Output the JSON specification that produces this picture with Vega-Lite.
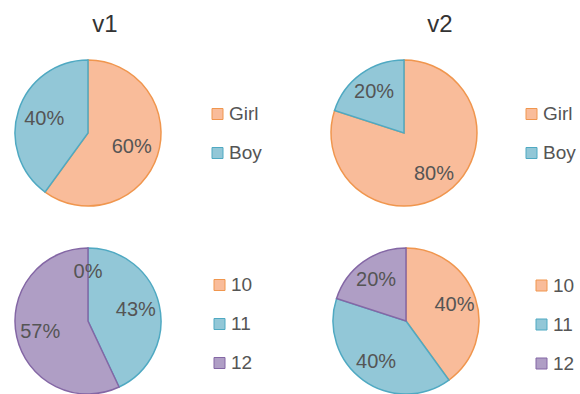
{
  "$schema": "https://vega.github.io/schema/vega-lite/v6.json",
  "padding": {"left": 12, "top": 13, "right": 0, "bottom": 0},
  "background": "white",
  "config": {
    "view": {"stroke": null},
    "font": "Liberation Sans",
    "title": {"fontSize": 24, "fontWeight": "normal", "color": "#333333", "offset": 20, "frame": "group", "anchor": "middle"}
  },
  "datasets": {
    "g1": [{"cat": "Girl", "share": 0.6, "ord": 1}, {"cat": "Boy", "share": 0.4, "ord": 2}],
    "g2": [{"cat": "Girl", "share": 0.8, "ord": 1}, {"cat": "Boy", "share": 0.2, "ord": 2}],
    "a1": [{"cat": "10", "share": 0, "ord": 1}, {"cat": "11", "share": 0.43, "ord": 2}, {"cat": "12", "share": 0.57, "ord": 3}],
    "a2": [{"cat": "10", "share": 0.4, "ord": 1}, {"cat": "11", "share": 0.4, "ord": 2}, {"cat": "12", "share": 0.2, "ord": 3}]
  },
  "resolve": {"scale": {"color": "independent", "stroke": "independent", "theta": "independent"}, "legend": {"color": "independent", "stroke": "independent"}},
  "spacing": 36,
  "vconcat": [
    {
      "spacing": 66,
      "resolve": {"scale": {"color": "independent", "stroke": "independent", "theta": "independent"}, "legend": {"color": "independent", "stroke": "independent"}},
      "hconcat": [
        {
          "data": {"name": "g1"},
          "title": {"text": "v1", "dx": 17},
          "width": 146, "height": 146,
          "encoding": {
            "theta": {"field": "share", "type": "quantitative", "stack": true},
            "order": {"field": "ord", "type": "quantitative"}
          },
          "layer": [
            {
              "mark": {"type": "arc", "strokeWidth": 1.5},
              "encoding": {
                "color": {"field": "cat", "type": "nominal", "scale": {"domain": ["Girl", "Boy"], "range": ["#F9BC9A", "#92C7D7"]},
                  "legend": {"orient": "none", "legendX": 193, "legendY": 44.5, "title": null, "symbolType": "square", "symbolSize": 121, "symbolStrokeWidth": 1, "labelFontSize": 19, "labelColor": "#555555", "labelOffset": 2, "rowPadding": 19, "padding": 0}},
                "stroke": {"field": "cat", "type": "nominal", "scale": {"domain": ["Girl", "Boy"], "range": ["#F0964E", "#4FA9C2"]},
                  "legend": {"orient": "none", "legendX": 193, "legendY": 44.5, "title": null, "symbolType": "square", "symbolSize": 121, "symbolStrokeWidth": 1, "labelFontSize": 19, "labelColor": "#555555", "labelOffset": 2, "rowPadding": 19, "padding": 0}}
              }
            },
            {
              "mark": {"type": "text", "radius": 46, "fontSize": 20, "color": "#555555"},
              "encoding": {
                "detail": {"field": "cat", "type": "nominal"},
                "text": {"field": "share", "type": "quantitative", "format": ".0%"}
              }
            }
          ]
        },
        {
          "data": {"name": "g2"},
          "title": {"text": "v2", "dx": 36},
          "width": 146, "height": 146,
          "encoding": {
            "theta": {"field": "share", "type": "quantitative", "stack": true},
            "order": {"field": "ord", "type": "quantitative"}
          },
          "layer": [
            {
              "mark": {"type": "arc", "strokeWidth": 1.5},
              "encoding": {
                "color": {"field": "cat", "type": "nominal", "scale": {"domain": ["Girl", "Boy"], "range": ["#F9BC9A", "#92C7D7"]},
                  "legend": {"orient": "none", "legendX": 191, "legendY": 44.5, "title": null, "symbolType": "square", "symbolSize": 121, "symbolStrokeWidth": 1, "labelFontSize": 19, "labelColor": "#555555", "labelOffset": 2, "rowPadding": 19, "padding": 0}},
                "stroke": {"field": "cat", "type": "nominal", "scale": {"domain": ["Girl", "Boy"], "range": ["#F0964E", "#4FA9C2"]},
                  "legend": {"orient": "none", "legendX": 191, "legendY": 44.5, "title": null, "symbolType": "square", "symbolSize": 121, "symbolStrokeWidth": 1, "labelFontSize": 19, "labelColor": "#555555", "labelOffset": 2, "rowPadding": 19, "padding": 0}}
              }
            },
            {
              "mark": {"type": "text", "radius": 51, "fontSize": 20, "color": "#555555"},
              "encoding": {
                "detail": {"field": "cat", "type": "nominal"},
                "text": {"field": "share", "type": "quantitative", "format": ".0%"}
              }
            }
          ]
        }
      ]
    },
    {
      "spacing": 77,
      "resolve": {"scale": {"color": "independent", "stroke": "independent", "theta": "independent"}, "legend": {"color": "independent", "stroke": "independent"}},
      "hconcat": [
        {
          "data": {"name": "a1"},
          "width": 146, "height": 146,
          "encoding": {
            "theta": {"field": "share", "type": "quantitative", "stack": true},
            "order": {"field": "ord", "type": "quantitative"}
          },
          "layer": [
            {
              "mark": {"type": "arc", "strokeWidth": 1.5},
              "encoding": {
                "color": {"field": "cat", "type": "nominal", "scale": {"domain": ["10", "11", "12"], "range": ["#F9BC9A", "#92C7D7", "#AF9EC5"]},
                  "legend": {"orient": "none", "legendX": 195, "legendY": 27.5, "title": null, "symbolType": "square", "symbolSize": 121, "symbolStrokeWidth": 1, "labelFontSize": 19, "labelColor": "#555555", "labelOffset": 2, "rowPadding": 19, "padding": 0}},
                "stroke": {"field": "cat", "type": "nominal", "scale": {"domain": ["10", "11", "12"], "range": ["#F0964E", "#4FA9C2", "#8467A5"]},
                  "legend": {"orient": "none", "legendX": 195, "legendY": 27.5, "title": null, "symbolType": "square", "symbolSize": 121, "symbolStrokeWidth": 1, "labelFontSize": 19, "labelColor": "#555555", "labelOffset": 2, "rowPadding": 19, "padding": 0}}
              }
            },
            {
              "mark": {"type": "text", "radius": 49, "fontSize": 20, "color": "#555555"},
              "encoding": {
                "detail": {"field": "cat", "type": "nominal"},
                "text": {"field": "share", "type": "quantitative", "format": ".0%"}
              }
            }
          ]
        },
        {
          "data": {"name": "a2"},
          "width": 146, "height": 146,
          "encoding": {
            "theta": {"field": "share", "type": "quantitative", "stack": true},
            "order": {"field": "ord", "type": "quantitative"}
          },
          "layer": [
            {
              "mark": {"type": "arc", "strokeWidth": 1.5},
              "encoding": {
                "color": {"field": "cat", "type": "nominal", "scale": {"domain": ["10", "11", "12"], "range": ["#F9BC9A", "#92C7D7", "#AF9EC5"]},
                  "legend": {"orient": "none", "legendX": 199, "legendY": 28, "title": null, "symbolType": "square", "symbolSize": 121, "symbolStrokeWidth": 1, "labelFontSize": 19, "labelColor": "#555555", "labelOffset": 2, "rowPadding": 19, "padding": 0}},
                "stroke": {"field": "cat", "type": "nominal", "scale": {"domain": ["10", "11", "12"], "range": ["#F0964E", "#4FA9C2", "#8467A5"]},
                  "legend": {"orient": "none", "legendX": 199, "legendY": 28, "title": null, "symbolType": "square", "symbolSize": 121, "symbolStrokeWidth": 1, "labelFontSize": 19, "labelColor": "#555555", "labelOffset": 2, "rowPadding": 19, "padding": 0}}
              }
            },
            {
              "mark": {"type": "text", "radius": 51, "fontSize": 20, "color": "#555555"},
              "encoding": {
                "detail": {"field": "cat", "type": "nominal"},
                "text": {"field": "share", "type": "quantitative", "format": ".0%"}
              }
            }
          ]
        }
      ]
    }
  ]
}
